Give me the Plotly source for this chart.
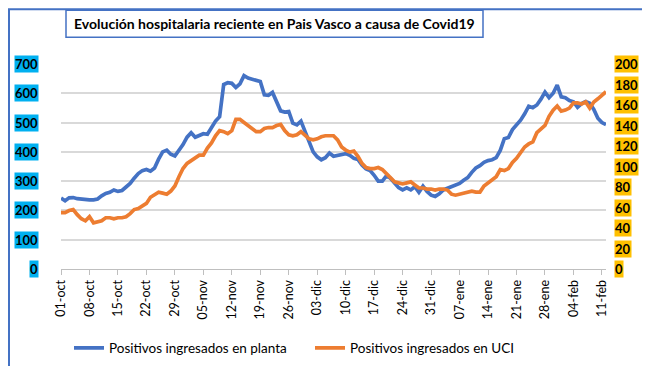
import pandas as pd
import plotly.graph_objects as go

# ---- data ----
start_date = "2020-10-01"
planta = [242, 233, 243, 244, 240, 238, 237, 236, 236, 239,
          250, 258, 262, 270, 265, 268, 280, 292, 310, 326,
          336, 340, 334, 345, 375, 400, 406, 392, 386, 405,
          425, 450, 465, 450, 455, 462, 460, 485, 505, 520,
          630, 636, 634, 620, 632, 660, 652, 648, 645, 640,
          595, 593, 603, 570, 540, 536, 538, 498, 492, 505,
          470, 430, 400, 383, 373, 380, 396, 385, 388, 393,
          394, 388, 378, 374, 355, 342, 336, 320, 300, 300,
          318, 310, 292, 278, 270, 277, 270, 281, 262, 283,
          265, 252, 248, 257, 270, 276, 280, 285, 292, 303,
          312, 330, 345, 353, 364, 370, 373, 380, 405, 445,
          449, 476, 492, 508, 530, 556, 551, 560, 580, 604,
          585, 600, 628, 588, 585, 575, 571, 552, 565, 572,
          566, 545, 515, 500, 493]
uci = [55, 55, 57, 58, 53, 49, 47, 51, 45, 46,
       47, 50, 50, 49, 50, 50, 51, 54, 58, 59,
       61, 64, 70, 73, 75, 74, 73, 76, 81, 90,
       98, 103, 106, 108, 111, 111, 118, 123, 130, 135,
       134, 132, 135, 146, 146, 143, 140, 137, 134, 134,
       137, 138, 138, 140, 141, 135, 131, 130, 131, 134,
       131, 127, 126, 127, 129, 130, 130, 130, 126, 119,
       116, 114, 115, 110, 103, 99, 98, 98, 99, 97,
       93, 89, 85, 84, 83, 84, 85, 82, 79, 79,
       78, 78, 77, 78, 78, 77, 73, 72, 73, 74,
       75, 76, 75, 75, 81, 84, 86, 90, 97, 96,
       98, 104, 108, 114, 119, 122, 124, 133, 137, 140,
       149, 155, 159, 154, 155, 157, 162, 162, 161, 163,
       157, 163, 166, 169, 173]
tick_dates = ["2020-10-01", "2020-10-08", "2020-10-15", "2020-10-22", "2020-10-29",
              "2020-11-05", "2020-11-12", "2020-11-19", "2020-11-26", "2020-12-03",
              "2020-12-10", "2020-12-17", "2020-12-24", "2020-12-31", "2021-01-07",
              "2021-01-14", "2021-01-21", "2021-01-28", "2021-02-04", "2021-02-11"]
tick_labels = ["01-oct", "08-oct", "15-oct", "22-oct", "29-oct",
               "05-nov", "12-nov", "19-nov", "26-nov", "03-dic",
               "10-dic", "17-dic", "24-dic", "31-dic", "07-ene",
               "14-ene", "21-ene", "28-ene", "04-feb", "11-feb"]
left_ticks = [0, 100, 200, 300, 400, 500, 600, 700]
right_ticks = [0, 20, 40, 60, 80, 100, 120, 140, 160, 180, 200]
title_text = "Evolución hospitalaria reciente en Pais Vasco a causa de Covid19"
name_planta = "Positivos ingresados en planta"
name_uci = "Positivos ingresados en UCI"

dates = pd.date_range(start_date, periods=len(planta))

FONT = "Lato"
W, H = 650, 366
L, R, T, B = 53, 52, 56, 104
pw, ph = W - L - R, H - T - B


def px(x):
    return (x - L) / pw


def py(y):
    return (H - B - y) / ph


fig = go.Figure()
fig.add_trace(go.Scatter(x=dates, y=planta, name=name_planta, mode="lines",
                         line=dict(color="#4472C4", width=3.7)))
fig.add_trace(go.Scatter(x=dates, y=uci, name=name_uci, mode="lines", yaxis="y2",
                         line=dict(color="#ED7D31", width=3.7)))

annotations = []
for v in left_ticks:
    annotations.append(dict(x=px(31), xref="paper", y=v, yref="y", text=str(v),
                            showarrow=False, xanchor="right", yanchor="middle",
                            bgcolor="#00B0F0", borderpad=0,
                            font=dict(family=FONT, size=13, color="black", weight="bold")))
for v in right_ticks:
    annotations.append(dict(x=px(606), xref="paper", y=v, yref="y2", text=str(v),
                            showarrow=False, xanchor="left", yanchor="middle",
                            bgcolor="#FFC000", borderpad=0,
                            font=dict(family=FONT, size=13, color="black", weight="bold")))
annotations.append(dict(x=px(266.5), xref="paper", y=py(15.5), yref="paper", text=title_text,
                        showarrow=False, xanchor="center", yanchor="middle",
                        font=dict(family=FONT, size=14, color="black", weight="bold")))

shapes = [
    dict(type="rect", xref="paper", yref="paper", x0=px(1), x1=px(648), y0=py(1), y1=py(364),
         line=dict(color="#4472C4", width=2), fillcolor="rgba(0,0,0,0)", layer="below"),
    dict(type="rect", xref="paper", yref="paper", x0=px(58), x1=px(475), y0=py(2), y1=py(29),
         line=dict(color="#4472C4", width=1.5), fillcolor="white", layer="below"),
]

fig.update_layout(
    width=W, height=H,
    margin=dict(l=L, r=R, t=T, b=B, pad=0),
    paper_bgcolor="white", plot_bgcolor="white",
    font=dict(family=FONT, size=12, color="black"),
    showlegend=True,
    legend=dict(orientation="h", x=px(61), y=py(340), xref="paper", yref="paper",
                xanchor="left", yanchor="middle", entrywidth=196,
                font=dict(family=FONT, size=13.5, color="black"),
                bgcolor="rgba(0,0,0,0)"),
    xaxis=dict(range=[dates[0], dates[-1]], tickvals=pd.to_datetime(tick_dates),
               ticktext=tick_labels, tickangle=-90, ticks="outside", ticklen=5,
               tickcolor="#BFBFBF", showline=True, linecolor="#BFBFBF", linewidth=1,
               showgrid=False, zeroline=False, tickfont=dict(family=FONT, size=12.5)),
    yaxis=dict(range=[0, 700], tickvals=left_ticks, showticklabels=False,
               showgrid=True, gridcolor="#D9D9D9", gridwidth=1.5, zeroline=False),
    yaxis2=dict(range=[0, 200], overlaying="y", side="right", tickvals=right_ticks,
                showticklabels=False, showgrid=False, zeroline=False),
    annotations=annotations,
    shapes=shapes,
)

fig.write_html("out.html")
